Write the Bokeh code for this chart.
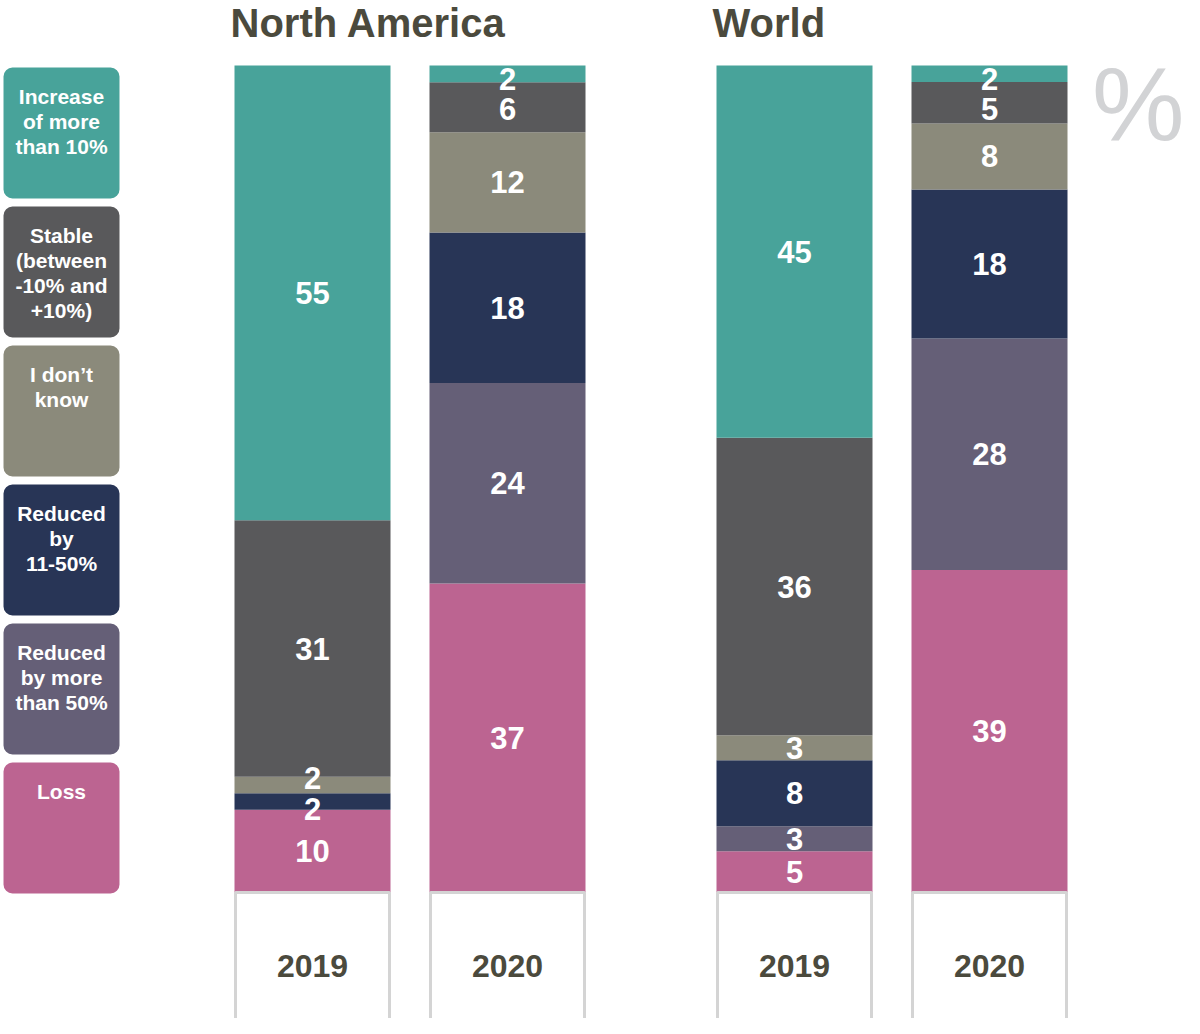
import numpy as np
from bokeh.plotting import figure
from bokeh.models import Range1d
from bokeh.embed import file_html
from bokeh.resources import INLINE
from bokeh.core.properties import value

# ---------------- data ----------------
regions = ["North America", "World"]
years = ["2019", "2020"]
# stacking order, bottom to top
categories = ["Loss", "Reduced by more than 50%", "Reduced by 11-50%",
              "I don’t know", "Stable (between -10% and +10%)", "Increase of more than 10%"]
legend_labels = ["Loss", "Reduced\nby more\nthan 50%", "Reduced\nby\n11-50%",
                 "I don’t\nknow", "Stable\n(between\n-10% and\n+10%)", "Increase\nof more\nthan 10%"]
colors = ["#BC6491", "#655F77", "#283556", "#8B8A7B", "#59595B", "#48A39A"]

na_2019 = [10, 0, 2, 2, 31, 55]
na_2020 = [37, 24, 18, 12, 6, 2]
world_2019 = [5, 3, 8, 3, 36, 45]
world_2020 = [39, 28, 18, 8, 5, 2]
series = [[na_2019, na_2020], [world_2019, world_2020]]

# ---------------- layout ----------------
W, H = 1184, 1018
BASE = 892          # pixel (from figure top) of the bar bottoms
K = 8.27            # pixels per percentage point
FONT = value("Liberation Sans")
TITLE_COLOR = "#4B4A3D"
LABEL_GAP = 31 / K  # minimal distance between two value labels
TOP_LIMIT = 100 - 13 / K


def y_of(px):
    return (BASE - px) / K


def spread(ys):
    """Push overlapping label centres apart (ys ascending)."""
    ys = list(ys)
    for _ in range(200):
        moved = False
        for j in range(len(ys) - 1):
            d = ys[j + 1] - ys[j]
            if d < LABEL_GAP - 1e-6:
                shift = (LABEL_GAP - d) / 2
                ys[j] -= shift
                ys[j + 1] += shift
                moved = True
        if ys and ys[-1] > TOP_LIMIT:
            ys[-1] = TOP_LIMIT
            moved = True
        if not moved:
            break
    return ys


p = figure(width=W, height=H, x_range=Range1d(0, W),
           y_range=Range1d(-(H - BASE) / K, BASE / K),
           output_backend="svg", toolbar_location=None,
           x_axis_location=None, y_axis_location=None,
           min_border=0, min_border_left=0, min_border_right=0,
           min_border_top=0, min_border_bottom=0)
p.grid.visible = False
p.outline_line_color = None
p.background_fill_color = "white"
p.border_fill_color = "white"

group_left = [234, 716]
bar_w = 156
bar_gap = 39

for gi, region in enumerate(regions):
    gx = group_left[gi]
    p.text(x=[gx - 4], y=[y_of(22)], text=[region], text_font=FONT,
           text_font_style="bold", text_font_size="40px", text_color=TITLE_COLOR,
           text_align="left", text_baseline="middle")
    for bi, year in enumerate(years):
        vals = np.array(series[gi][bi], dtype=float)
        shares = vals / vals.sum() * 100
        tops = np.cumsum(shares)
        bottoms = tops - shares
        left = gx + bi * (bar_w + bar_gap)
        right = left + bar_w
        cx = (left + right) / 2
        p.quad(left=[left] * len(vals), right=[right] * len(vals),
               bottom=bottoms, top=tops, fill_color=colors, line_color=None)
        mask = vals > 0
        label_y = spread(((bottoms + tops) / 2)[mask])
        p.text(x=[cx] * int(mask.sum()), y=label_y,
               text=[str(int(v)) for v in vals[mask]], text_font=FONT,
               text_font_style="bold", text_font_size="31px", text_color="white",
               text_align="center", text_baseline="middle")
        # year box
        p.quad(left=[left + 1], right=[right - 1], bottom=[y_of(1032)], top=[0],
               fill_color="white", line_color="#D4D4D4", line_width=3)
        p.text(x=[cx], y=[y_of(965)], text=[year], text_font=FONT,
               text_font_style="bold", text_font_size="32px", text_color=TITLE_COLOR,
               text_align="center", text_baseline="middle")

# legend boxes (top to bottom)
box_top0, box_step, box_h = 67, 139, 131
order = list(range(len(categories)))[::-1]
for i, ci in enumerate(order):
    top_px = box_top0 + i * box_step
    p.quad(left=[3], right=[119], top=[y_of(top_px)], bottom=[y_of(top_px + box_h)],
           fill_color=colors[ci], line_color=None, border_radius=9)
    p.text(x=[61], y=[y_of(top_px + 17)], text=[legend_labels[ci]], text_font=FONT,
           text_font_style="bold", text_font_size="21px", text_color="white",
           text_align="center", text_baseline="top", text_line_height=1.1)

# percent sign
p.text(x=[W], y=[y_of(103)], text=["%"], text_font=FONT, text_font_size="104px",
       text_color="#D2D3D5", text_align="right", text_baseline="middle")

open("out.html", "w").write(file_html(p, INLINE))
